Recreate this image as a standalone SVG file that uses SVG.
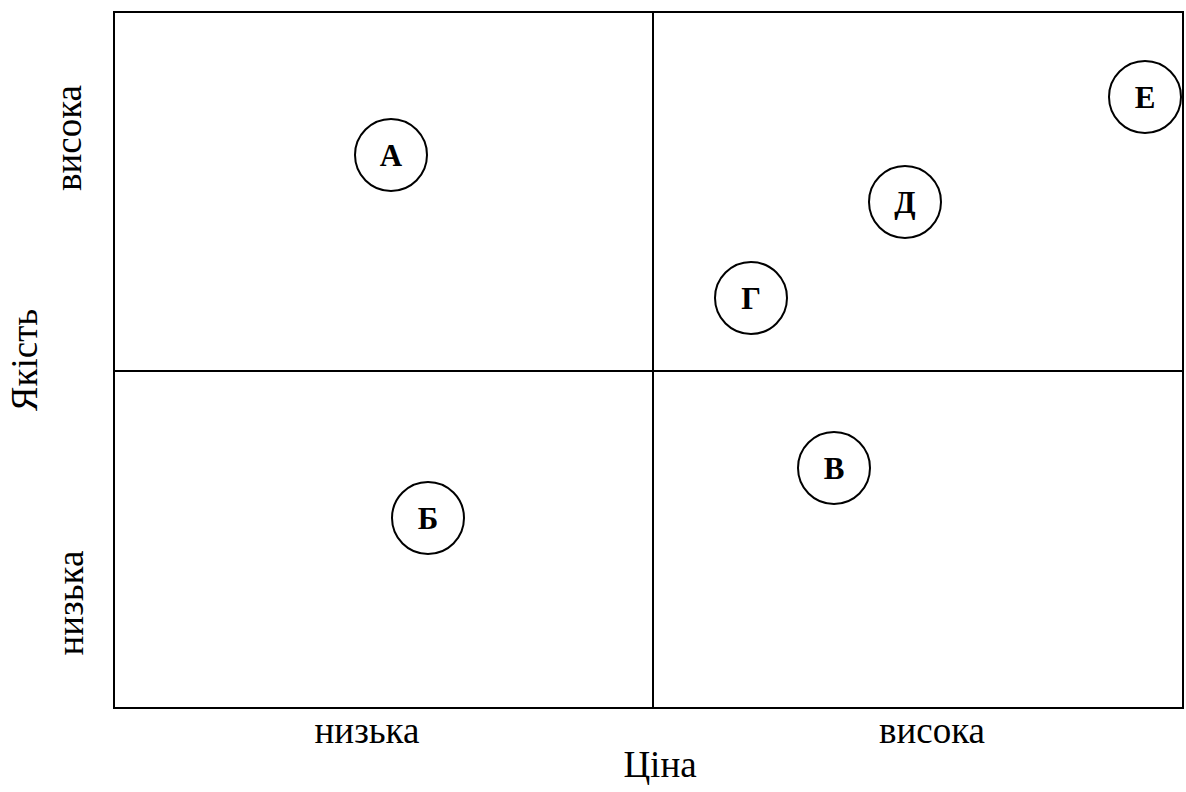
<svg xmlns="http://www.w3.org/2000/svg" width="1186" height="792" viewBox="0 0 1186 792">
  <style>
    .frame { fill: none; stroke: #000; stroke-width: 2; }
    .node circle { fill: #fff; stroke: #000; stroke-width: 2; }
    .node text { font-family: "Liberation Serif", serif; font-size: 31px; font-weight: bold; text-anchor: middle; fill: #000; }
    .axis { font-family: "Liberation Serif", serif; font-size: 37px; text-anchor: middle; fill: #000; }
  </style>
  <rect width="1186" height="792" fill="#fff"/>
  <!-- quadrant grid -->
  <g id="grid">
    <rect class="frame" x="114" y="12" width="1069" height="696"/>
    <line class="frame" x1="653" y1="12" x2="653" y2="708"/>
    <line class="frame" x1="114" y1="371" x2="1183" y2="371"/>
  </g>
  <g id="connectors"></g>
  <!-- products -->
  <g id="node-A" class="node"><circle cx="391" cy="155" r="36"/><text x="391" y="166">А</text></g>
  <g id="node-B" class="node"><circle cx="428" cy="518" r="36"/><text x="428" y="529">Б</text></g>
  <g id="node-V" class="node"><circle cx="834" cy="468" r="36"/><text x="834" y="479">В</text></g>
  <g id="node-G" class="node"><circle cx="751" cy="298" r="36"/><text x="751" y="309">Г</text></g>
  <g id="node-D" class="node"><circle cx="905" cy="202" r="36"/><text x="905" y="213">Д</text></g>
  <g id="node-E" class="node"><circle cx="1145" cy="97" r="36"/><text x="1145" y="108">Е</text></g>
  <!-- axis labels -->
  <g id="labels">
    <text class="axis" transform="translate(81 138) rotate(-90)">висока</text>
    <text class="axis" transform="translate(83 603) rotate(-90)">низька</text>
    <text class="axis" transform="translate(37 360) rotate(-90)">Якість</text>
    <text class="axis" x="367" y="743">низька</text>
    <text class="axis" x="932" y="743">висока</text>
    <text class="axis" x="660" y="777">Ціна</text>
  </g>
</svg>
